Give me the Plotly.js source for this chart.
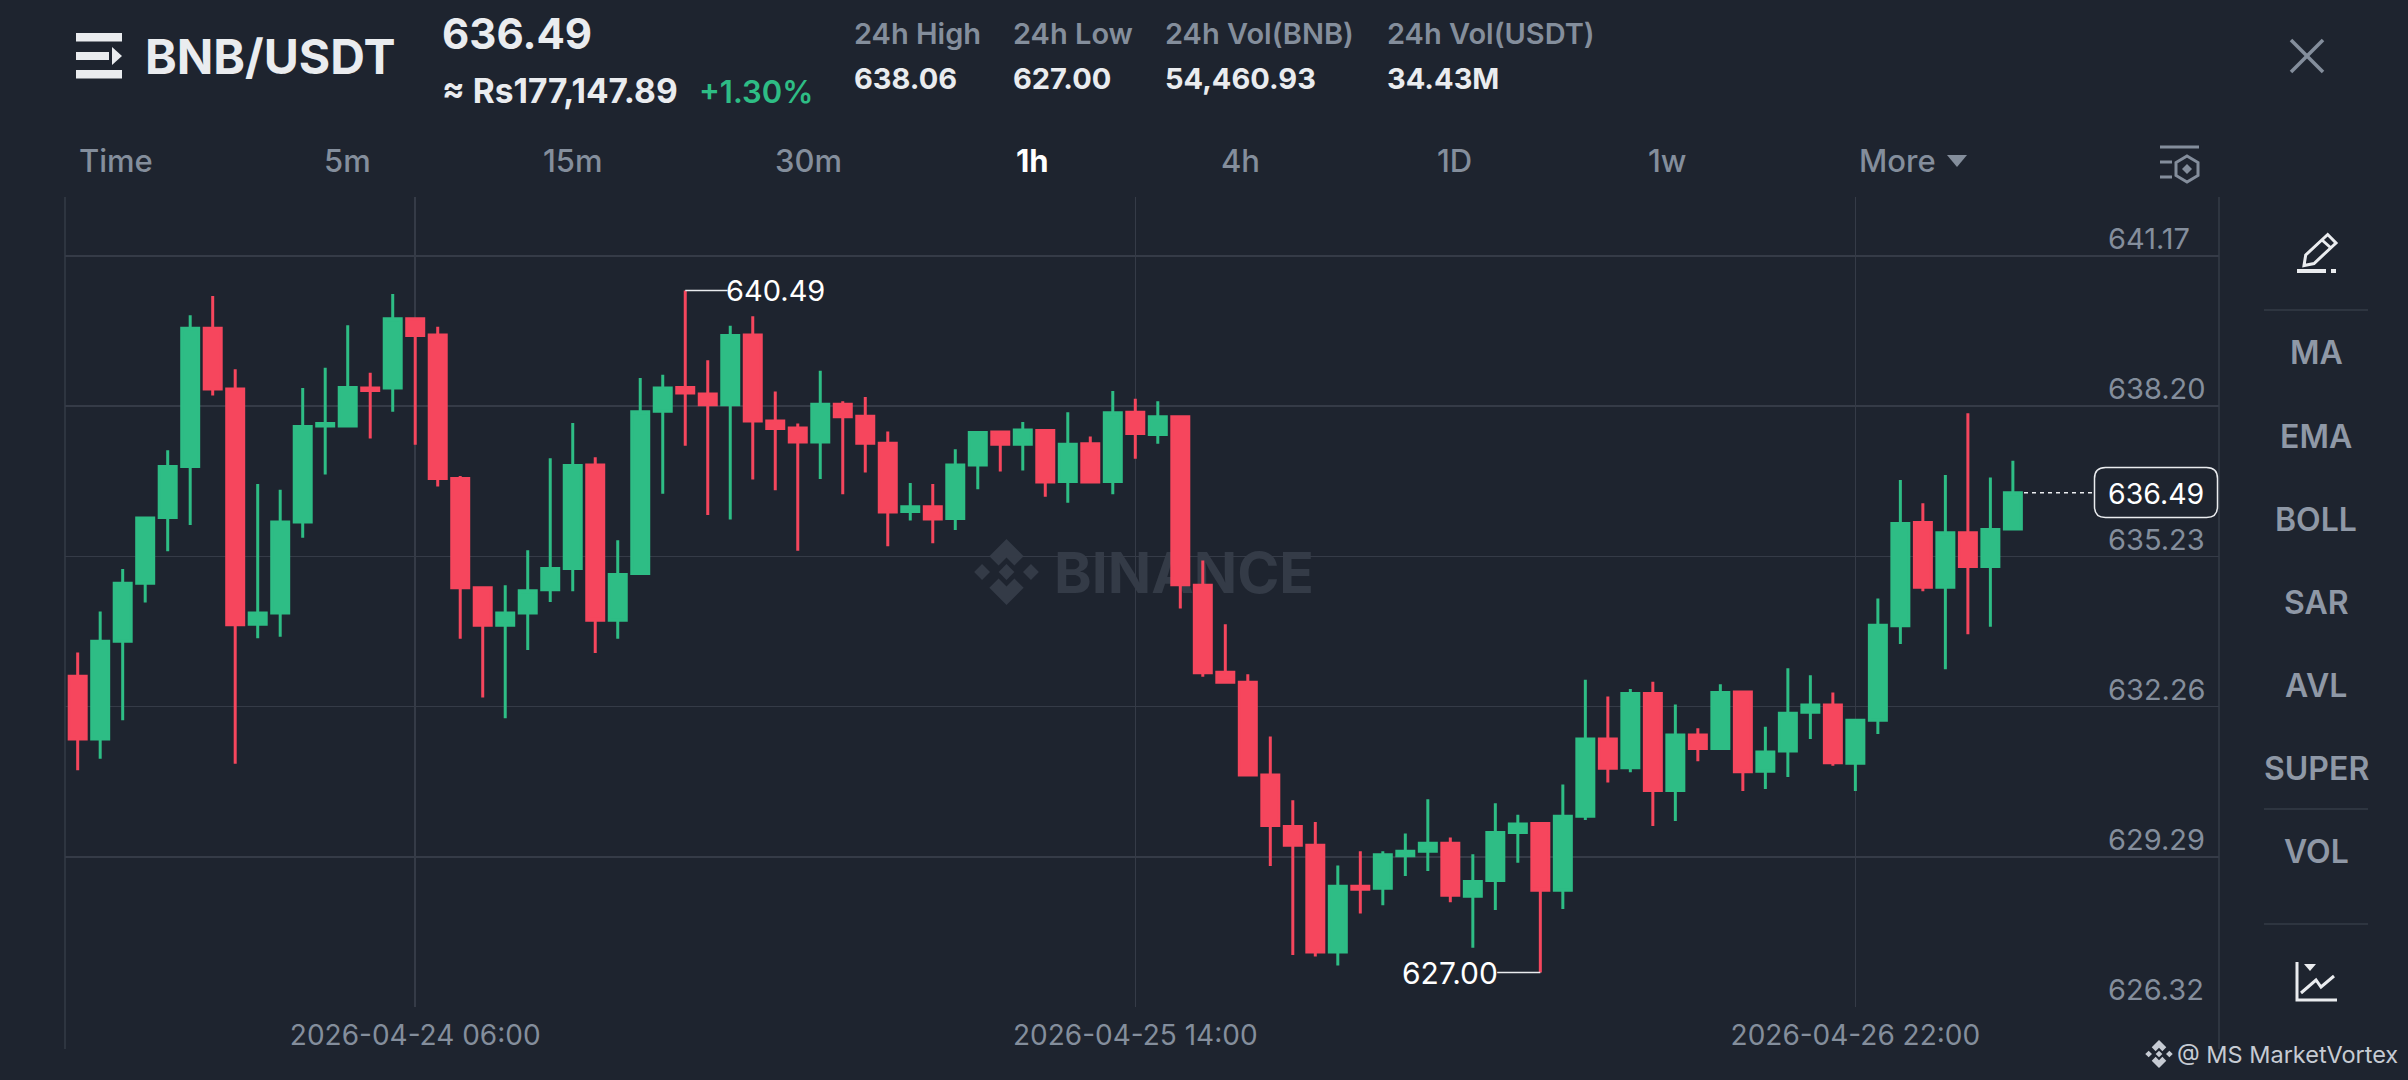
<!DOCTYPE html>
<html>
<head>
<meta charset="utf-8">
<script src="https://cdn.plot.ly/plotly-3.0.1.min.js"></script>
<style>html,body{margin:0;padding:0;background:#1E242F;overflow:hidden}#chart{width:2408px;height:1080px}</style>
</head>
<body>
<div id="chart"></div>
<script>
const times = [
"2026-04-23 15:00","2026-04-23 16:00","2026-04-23 17:00","2026-04-23 18:00","2026-04-23 19:00","2026-04-23 20:00","2026-04-23 21:00","2026-04-23 22:00","2026-04-23 23:00",
"2026-04-24 00:00","2026-04-24 01:00","2026-04-24 02:00","2026-04-24 03:00","2026-04-24 04:00","2026-04-24 05:00","2026-04-24 06:00","2026-04-24 07:00","2026-04-24 08:00","2026-04-24 09:00","2026-04-24 10:00","2026-04-24 11:00","2026-04-24 12:00","2026-04-24 13:00","2026-04-24 14:00","2026-04-24 15:00","2026-04-24 16:00","2026-04-24 17:00","2026-04-24 18:00","2026-04-24 19:00","2026-04-24 20:00","2026-04-24 21:00","2026-04-24 22:00","2026-04-24 23:00",
"2026-04-25 00:00","2026-04-25 01:00","2026-04-25 02:00","2026-04-25 03:00","2026-04-25 04:00","2026-04-25 05:00","2026-04-25 06:00","2026-04-25 07:00","2026-04-25 08:00","2026-04-25 09:00","2026-04-25 10:00","2026-04-25 11:00","2026-04-25 12:00","2026-04-25 13:00","2026-04-25 14:00","2026-04-25 15:00","2026-04-25 16:00","2026-04-25 17:00","2026-04-25 18:00","2026-04-25 19:00","2026-04-25 20:00","2026-04-25 21:00","2026-04-25 22:00","2026-04-25 23:00",
"2026-04-26 00:00","2026-04-26 01:00","2026-04-26 02:00","2026-04-26 03:00","2026-04-26 04:00","2026-04-26 05:00","2026-04-26 06:00","2026-04-26 07:00","2026-04-26 08:00","2026-04-26 09:00","2026-04-26 10:00","2026-04-26 11:00","2026-04-26 12:00","2026-04-26 13:00","2026-04-26 14:00","2026-04-26 15:00","2026-04-26 16:00","2026-04-26 17:00","2026-04-26 18:00","2026-04-26 19:00","2026-04-26 20:00","2026-04-26 21:00","2026-04-26 22:00","2026-04-26 23:00",
"2026-04-27 00:00","2026-04-27 01:00","2026-04-27 02:00","2026-04-27 03:00","2026-04-27 04:00","2026-04-27 05:00"];
const opens = [632.86,631.62,633.55,634.70,636.00,637.01,639.74,638.54,633.89,634.11,635.91,637.81,637.81,638.56,638.56,639.93,639.61,636.77,634.61,633.87,634.11,634.57,634.99,637.04,633.97,634.89,638.10,
638.57,638.44,638.23,639.61,637.91,637.77,637.49,638.24,638.00,637.47,636.12,636.21,635.98,637.04,637.69,637.45,637.72,636.71,637.46,636.71,638.08,637.64,637.99,
634.66,632.94,632.74,630.91,629.89,629.52,627.41,628.71,628.67,629.31,629.40,629.56,628.51,628.82,629.77,629.95,628.63,630.09,631.62,631.05,632.52,630.60,631.70,631.43,632.55,630.98,631.38,632.15,632.29,631.14,631.99,633.86,635.90,634.62,635.70,635.03,635.77];
const highs = [633.33,634.14,634.98,635.99,637.33,640.00,640.38,638.93,636.66,636.55,638.56,638.96,639.80,638.86,640.42,639.93,639.77,636.82,634.61,634.66,635.35,637.17,637.87,637.19,635.55,638.76,638.82,
640.49,639.11,639.79,639.98,638.49,637.86,638.90,638.30,638.38,637.70,636.68,636.66,637.35,637.70,637.69,637.89,637.72,638.08,637.60,638.50,638.35,638.30,637.99,
635.15,633.89,632.90,631.67,630.41,629.98,629.12,629.40,629.40,629.75,630.43,629.67,629.34,630.35,630.12,629.98,630.72,632.79,632.46,632.61,632.75,632.30,631.83,632.70,632.55,631.86,633.02,632.88,632.54,631.99,634.40,636.74,636.28,636.84,638.06,636.79,637.12];
const lows = [631.00,631.23,631.99,634.32,635.33,635.85,638.41,631.13,633.61,633.64,635.60,636.85,637.81,637.56,638.09,637.44,636.61,633.60,632.44,632.03,633.38,634.33,634.54,633.32,633.60,634.89,636.47,
637.42,636.05,635.96,636.75,636.54,635.34,636.76,636.46,636.89,635.43,635.94,635.49,635.75,636.56,636.91,636.93,636.41,636.29,636.70,636.46,637.16,637.46,634.20,
632.85,632.74,630.91,629.11,627.35,627.32,627.14,628.17,628.33,628.91,629.01,628.39,627.49,628.24,629.17,627.00,628.26,630.02,630.76,630.96,629.90,630.00,631.18,631.43,630.59,630.63,630.87,631.62,631.09,630.59,631.72,633.50,634.54,633.00,633.69,633.84,635.77];
const closes = [631.62,633.55,634.70,635.99,637.01,639.74,638.54,633.88,634.11,635.91,637.80,637.86,638.57,638.51,639.93,639.60,636.77,634.61,633.87,634.11,634.55,634.99,637.03,633.97,634.87,638.09,638.56,
638.46,638.23,639.60,637.91,637.76,637.49,638.24,637.99,637.47,636.11,636.21,635.97,637.04,637.68,637.45,637.73,636.70,637.45,636.70,638.07,637.66,637.99,634.67,
632.93,632.74,630.91,629.91,629.52,627.41,628.71,628.65,629.33,629.40,629.56,628.53,628.80,629.77,629.94,628.63,630.09,631.62,631.04,632.52,630.60,631.70,631.43,632.54,630.97,631.36,632.13,632.29,631.15,631.99,633.87,635.88,634.62,635.70,635.03,635.76,636.49];

const priceTicks = [641.17,638.20,635.23,632.26,629.29,626.32];
const priceTickLabels = ["641.17","638.20","635.23","632.26","629.29","626.32"];
const timeTicks = ["2026-04-24 06:00","2026-04-25 14:00","2026-04-26 22:00"];
const xRange = ["2026-04-23 14:26:10","2026-04-27 14:09:36"];
const yRange = [626.32,642.337];

const highPrice = 640.49, highTime = "2026-04-24 18:00", highLabelTime = "2026-04-24 19:53";
const lowPrice = 627.00, lowTime = "2026-04-26 08:00", lowLabelTime = "2026-04-26 06:05";
const lastPrice = 636.49;

const header = {pair:"BNB/USDT", price:"636.49", fiat:"\u2248 Rs177,147.89", change:"+1.30%"};
const statLabels = ["24h High","24h Low","24h Vol(BNB)","24h Vol(USDT)"];
const statValues = ["638.06","627.00","54,460.93","34.43M"];
const statX = [853,1012,1164,1386];
const intervals = ["Time","5m","15m","30m","1h","4h","1D","1w","More"];
const intervalX = [116,347,573,808,1032,1240,1454,1667,1897];
const sideItems = ["MA","EMA","BOLL","SAR","AVL","SUPER","VOL"];
const sideY = [353,436,519,602,685,768,851];

const FONT = "Inter, 'Open Sans', sans-serif";
const BG = "#1E242F", GRID = "#353B47", UP = "#2EBD85", DOWN = "#F6465D",
      MUTED = "#848E9C", LIGHT = "#EAECEF", WHITE = "#FFFFFF", MARK = "#343B47";

const L=65,R=2219,T=197,B=1007;
const fx = x => (x-L)/(R-L), fy = y => (B-y)/(B-T);

const annotations = [], shapes = [];
function text(t,x,y,size,color,anchor,weight){
  annotations.push({text:t,xref:"paper",yref:"paper",x:fx(x),y:fy(y),xanchor:anchor||"center",yanchor:"middle",
    showarrow:false,borderpad:0,font:{family:FONT,size:size,color:color,weight:weight||400}});
}
function line(x0,y0,x1,y1,color,w){
  shapes.push({type:"line",xref:"paper",yref:"paper",x0:fx(x0),y0:fy(y0),x1:fx(x1),y1:fy(y1),line:{color:color,width:w},layer:"above"});
}
function poly(pts,fill,stroke,w,close,layer){
  const d = pts.map((p,i)=>(i?"L":"M")+fx(p[0])+","+fy(p[1])).join(" ")+(close===false?"":" Z");
  shapes.push({type:"path",xref:"paper",yref:"paper",path:d,fillcolor:fill||"rgba(0,0,0,0)",line:{color:stroke||"rgba(0,0,0,0)",width:w||0},layer:layer||"above"});
}
function logo(cx,cy,r,color,layer){
  const m = a => a.map(p=>[cx+p[0]*r,cy+p[1]*r]);
  const diamond=(dx,s)=>[[dx,-s],[dx+s,0],[dx,s],[dx-s,0]];
  poly(m(diamond(0,.24)),color,null,0,true,layer);
  poly(m(diamond(-.74,.24)),color,null,0,true,layer);
  poly(m(diamond(.74,.24)),color,null,0,true,layer);
  const top=[[-.52,-.48],[0,-1],[.52,-.48],[.24,-.2],[0,-.44],[-.24,-.2]];
  poly(m(top),color,null,0,true,layer);
  poly(m(top.map(p=>[p[0],-p[1]])),color,null,0,true,layer);
}

// header
[[33,41.5],[70,78.5]].forEach(b=>poly([[76,b[0]],[122,b[0]],[122,b[1]],[76,b[1]]],LIGHT));
poly([[76,52],[109,52],[109,60],[76,60]],LIGHT);
poly([[112,47],[122,56],[112,65]],LIGHT);
text(header.pair,144,56,48,LIGHT,"left",700);
text(header.price,441,34,42,LIGHT,"left",700);
text(header.fiat,441,91,33.5,LIGHT,"left",700);
text(header.change,698,91,31,UP,"left",600);
statLabels.forEach((s,i)=>text(s,statX[i],34,29,MUTED,"left",600));
statValues.forEach((s,i)=>text(s,statX[i],79,29,LIGHT,"left",700));
intervals.forEach((s,i)=>text(s,intervalX[i],161,31,s==="1h"?WHITE:MUTED,"center",s==="1h"?700:500));
poly([[1947,155],[1967,155],[1957,167]],MUTED);
// close
line(2291,40,2323,72,MUTED,3.5); line(2323,40,2291,72,MUTED,3.5);
// settings icon
line(2160,147,2199,147,MUTED,3); line(2160,162,2172,162,MUTED,3); line(2160,177,2172,177,MUTED,3);
poly([[2187,156],[2198,162.5],[2198,175.5],[2187,182],[2176,175.5],[2176,162.5]],null,MUTED,3);
poly([[2187,164],[2192,169],[2187,174],[2182,169]],MUTED);
// pencil
poly([[2304,265.5],[2305.7,255],[2327.7,234.5],[2336,243],[2314,263.5]],null,LIGHT,3);
line(2322,240,2331,248,LIGHT,3);
line(2297,271,2326,271,LIGHT,4); line(2331,271,2336,271,LIGHT,4);
// side
[310,809,924].forEach(y=>line(2264,y,2368,y,GRID,1.5));
sideItems.forEach((s,i)=>text(s,2316,sideY[i],32,"#8F98A6","center",600));
// chart icon
poly([[2297,962],[2297,1000],[2337,1000]],null,LIGHT,3,false);
poly([[2301,993],[2316,980],[2321,987],[2334,976]],null,LIGHT,3,false);
poly([[2304,964],[2316,964],[2310,971]],LIGHT);
// credit
logo(2159,1054,14,"#C6CBD3");
text("@ MS MarketVortex",2176,1054,23.5,"#C6CBD3","left",400);

// frame lines
line(L,T,L,1049,GRID,1.5); line(R,T,R,1049,GRID,1.5);

// watermark under candles
logo(1006.5,572,33,MARK,"below");
shapes.push({type:"rect",xref:"paper",yref:"paper",x0:fx(1050),x1:fx(1318),y0:fy(597),y1:fy(543),layer:"below",
  line:{width:0},fillcolor:"rgba(0,0,0,0)",
  label:{text:"BINANCE",font:{family:FONT,size:57,color:MARK,weight:700},textposition:"middle center"}});

// high & low leaders
shapes.push({type:"line",xref:"x",yref:"y",x0:highTime,x1:highLabelTime,y0:highPrice,y1:highPrice,line:{color:LIGHT,width:1.5},layer:"above"});
annotations.push({text:highPrice.toFixed(2),xref:"x",yref:"y",x:highLabelTime,y:highPrice,xanchor:"left",yanchor:"middle",xshift:-3,showarrow:false,borderpad:0,font:{family:FONT,size:29,color:WHITE}});
shapes.push({type:"line",xref:"x",yref:"y",x0:lowTime,x1:lowLabelTime,y0:lowPrice,y1:lowPrice,line:{color:LIGHT,width:1.5},layer:"above"});
annotations.push({text:lowPrice.toFixed(2),xref:"x",yref:"y",x:lowLabelTime,y:lowPrice,xanchor:"right",yanchor:"middle",xshift:2,showarrow:false,borderpad:0,font:{family:FONT,size:30,color:WHITE}});

// last price tag
shapes.push({type:"line",xref:"paper",yref:"y",x0:fx(2024),x1:fx(2094),y0:lastPrice,y1:lastPrice,line:{color:LIGHT,width:1.5,dash:"4px,4px"},layer:"above"});
(function(){
  const x0=2094.5,x1=2217.5,y0=467.5,y1=517.5,r=11;
  const p=(x,y)=>fx(x)+","+fy(y);
  const d="M"+p(x0+r,y0)+" L"+p(x1-r,y0)+" Q"+p(x1,y0)+" "+p(x1,y0+r)+" L"+p(x1,y1-r)+" Q"+p(x1,y1)+" "+p(x1-r,y1)+" L"+p(x0+r,y1)+" Q"+p(x0,y1)+" "+p(x0,y1-r)+" L"+p(x0,y0+r)+" Q"+p(x0,y0)+" "+p(x0+r,y0)+" Z";
  shapes.push({type:"path",xref:"paper",yref:"paper",path:d,fillcolor:BG,line:{color:LIGHT,width:1.5},layer:"above"});
})();
text(lastPrice.toFixed(2),2156,493.5,28.5,WHITE,"center",400);

const trace = {
  type:"candlestick",x:times,open:opens,high:highs,low:lows,close:closes,whiskerwidth:0,
  increasing:{line:{color:UP,width:3},fillcolor:UP},
  decreasing:{line:{color:DOWN,width:3},fillcolor:DOWN},
  hoverinfo:"skip"
};
const layout = {
  width:2408,height:1080,showlegend:false,paper_bgcolor:BG,plot_bgcolor:BG,
  margin:{l:L,r:2408-R,t:T,b:1080-B,pad:0},boxgap:0.245,boxgroupgap:0,
  font:{family:FONT,color:MUTED},
  xaxis:{type:"date",range:xRange,rangeslider:{visible:false},tickmode:"array",tickvals:timeTicks,ticktext:timeTicks,
    showgrid:true,gridcolor:GRID,gridwidth:1.5,zeroline:false,showline:false,ticks:"outside",ticklen:3,tickcolor:"rgba(0,0,0,0)",
    tickfont:{family:FONT,size:28,color:MUTED}},
  yaxis:{type:"linear",range:yRange,side:"right",tickmode:"array",tickvals:priceTicks,ticktext:priceTickLabels,
    showgrid:true,gridcolor:GRID,gridwidth:1.5,zeroline:false,showline:false,ticks:"",
    ticklabelposition:"outside",ticklabelshift:-17,ticklabelstandoff:-112,
    tickfont:{family:FONT,size:29,color:MUTED}},
  annotations:annotations,shapes:shapes
};
Plotly.newPlot("chart",[trace],layout,{staticPlot:true,displayModeBar:false});
</script>
</body>
</html>
